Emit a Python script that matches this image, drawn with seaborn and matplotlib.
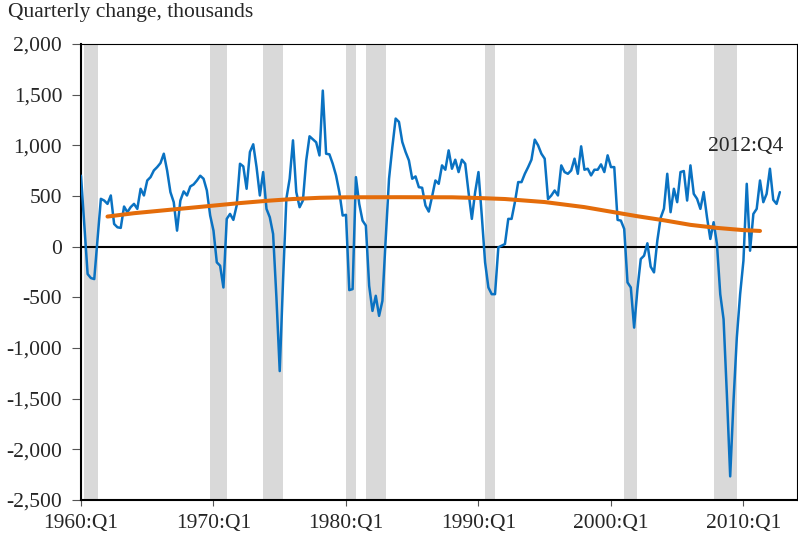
import numpy as np
import pandas as pd
import seaborn as sns
import matplotlib.pyplot as plt
from matplotlib.ticker import FuncFormatter

# Quarterly change in payroll employment, thousands, 1960:Q1 - 2012:Q4
quarterly_change = [
    700, 220, -270, -310,      # 1960
    -320, 80, 472, 455,        # 1961
    422, 505, 224, 191,        # 1962
    185, 396, 340, 390,        # 1963
    422, 373, 571, 505,        # 1964
    653, 686, 752, 785,        # 1965
    825, 917, 752, 538,        # 1966
    439, 158, 455, 545,        # 1967
    505, 594, 614, 653,        # 1968
    700, 670, 554, 307,        # 1969
    158, -155, -188, -403,     # 1970
    274, 323, 264, 406,        # 1971
    818, 792, 571, 934,        # 1972
    1010, 785, 505, 736,       # 1973
    373, 290, 125, -502,       # 1974
    -1228, -337, 472, 670,     # 1975
    1049, 538, 389, 455,       # 1976
    851, 1089, 1060, 1030,     # 1977
    900, 1540, 917, 911,       # 1978
    818, 703, 538, 307,        # 1979
    314, -429, -419, 686,      # 1980
    422, 257, 208, -386,       # 1981
    -634, -485, -683, -535,    # 1982
    80, 670, 983, 1264,        # 1983
    1231, 1033, 934, 851,      # 1984
    670, 693, 587, 581,        # 1985
    406, 346, 495, 653,        # 1986
    620, 802, 759, 950,        # 1987
    769, 858, 736, 858,        # 1988
    818, 538, 274, 538,        # 1989
    736, 307, -155, -403,      # 1990
    -469, -469, -7, 10,        # 1991
    26, 274, 274, 439,         # 1992
    637, 637, 719, 785,        # 1993
    858, 1056, 1000, 917,      # 1994
    868, 470, 505, 554,        # 1995
    505, 802, 736, 719,        # 1996
    752, 868, 719, 990,        # 1997
    759, 769, 703, 759,        # 1998
    759, 812, 736, 901,        # 1999
    785, 785, 264, 257,        # 2000
    175, -353, -403, -799,     # 2001
    -419, -122, -89, 33,       # 2002
    -198, -254, 59, 284,       # 2003
    375, 719, 340, 571,        # 2004
    439, 736, 746, 455,        # 2005
    802, 521, 472, 373,        # 2006
    538, 290, 76, 241,         # 2007
    26, -469, -716, -1459,     # 2008
    -2267, -1525, -898, -469,  # 2009
    -139, 620, -40, 323,       # 2010
    373, 653, 439, 521,        # 2011
    769, 462, 422, 538,        # 2012
]

# Smooth trend
trend_years = [1962.0, 1964, 1966, 1968, 1970, 1972, 1974, 1976, 1978, 1980,
               1984, 1988, 1990, 1992, 1995, 1998, 2000, 2002, 2004, 2006,
               2008, 2010, 2011.25]
trend_values = [297, 330, 355, 380, 405, 430, 452, 470, 482, 487,
                488, 487, 480, 470, 440, 390, 345, 300, 260, 215,
                185, 163, 155]

# NBER recessions, peak and trough quarters
recession_peaks = ["1960:Q2", "1969:Q4", "1973:Q4", "1980:Q1",
                   "1981:Q3", "1990:Q3", "2001:Q1", "2007:Q4"]
recession_troughs = ["1961:Q1", "1970:Q4", "1975:Q1", "1980:Q3",
                     "1982:Q4", "1991:Q1", "2001:Q4", "2009:Q2"]

tick_years = [1960, 1970, 1980, 1990, 2000, 2010]
tick_labels = [f"{y}:Q1" for y in tick_years]
y_ticks = list(range(-2500, 2001, 500))


def qtr_to_float(label):
    year, q = label.split(":Q")
    return int(year) + (int(q) - 1) / 4


sns.set_style("ticks")
plt.rcParams["font.family"] = ["Liberation Serif", "DejaVu Serif"]
plt.rcParams["font.size"] = 15.5

df = pd.DataFrame({
    "t": 1960 + np.arange(len(quarterly_change)) / 4,
    "change": quarterly_change,
})
trend = pd.DataFrame({"t": trend_years, "change": trend_values})

fig = plt.figure(figsize=(7.98, 5.39), dpi=100)
ax = fig.add_axes([0.1015, 0.0724, 0.8972, 0.846])

for p, tr in zip(recession_peaks, recession_troughs):
    ax.axvspan(qtr_to_float(p), qtr_to_float(tr) + 0.25,
               color="#d9d9d9", lw=0, zorder=0)

ax.axhline(0, color="black", lw=1.5, zorder=1)

sns.lineplot(data=df, x="t", y="change", color="#0a72c2", lw=1.8,
             ax=ax, zorder=3)
sns.lineplot(data=trend, x="t", y="change", color="#e46c0a", lw=2.9,
             ax=ax, zorder=4)

ax.text(2010.2, 990, "2012:Q4", ha="center", va="center")

ax.set_xlim(1960, 2014.04)
ax.set_ylim(-2500, 2000)
ax.set_xticks(tick_years)
ax.set_xticklabels(tick_labels)
ax.set_yticks(y_ticks)
ax.yaxis.set_major_formatter(FuncFormatter(lambda v, _: f"{int(v):,}"))
ax.set(xlabel="", ylabel="")

ax.tick_params(axis="y", direction="out", length=6.5, width=0.8,
               color="#555555", pad=7)
ax.tick_params(axis="x", direction="out", length=4.3, width=0.8,
               color="#555555", pad=6)
for side in ["left", "bottom"]:
    ax.spines[side].set_linewidth(1.5)
for side in ["top", "right"]:
    ax.spines[side].set_linewidth(0.8)
for s in ax.spines.values():
    s.set_color("black")

fig.text(8 / 798, 1 - 3 / 539, "Quarterly change, thousands",
         ha="left", va="top")

fig.savefig("out.png", dpi=100)
